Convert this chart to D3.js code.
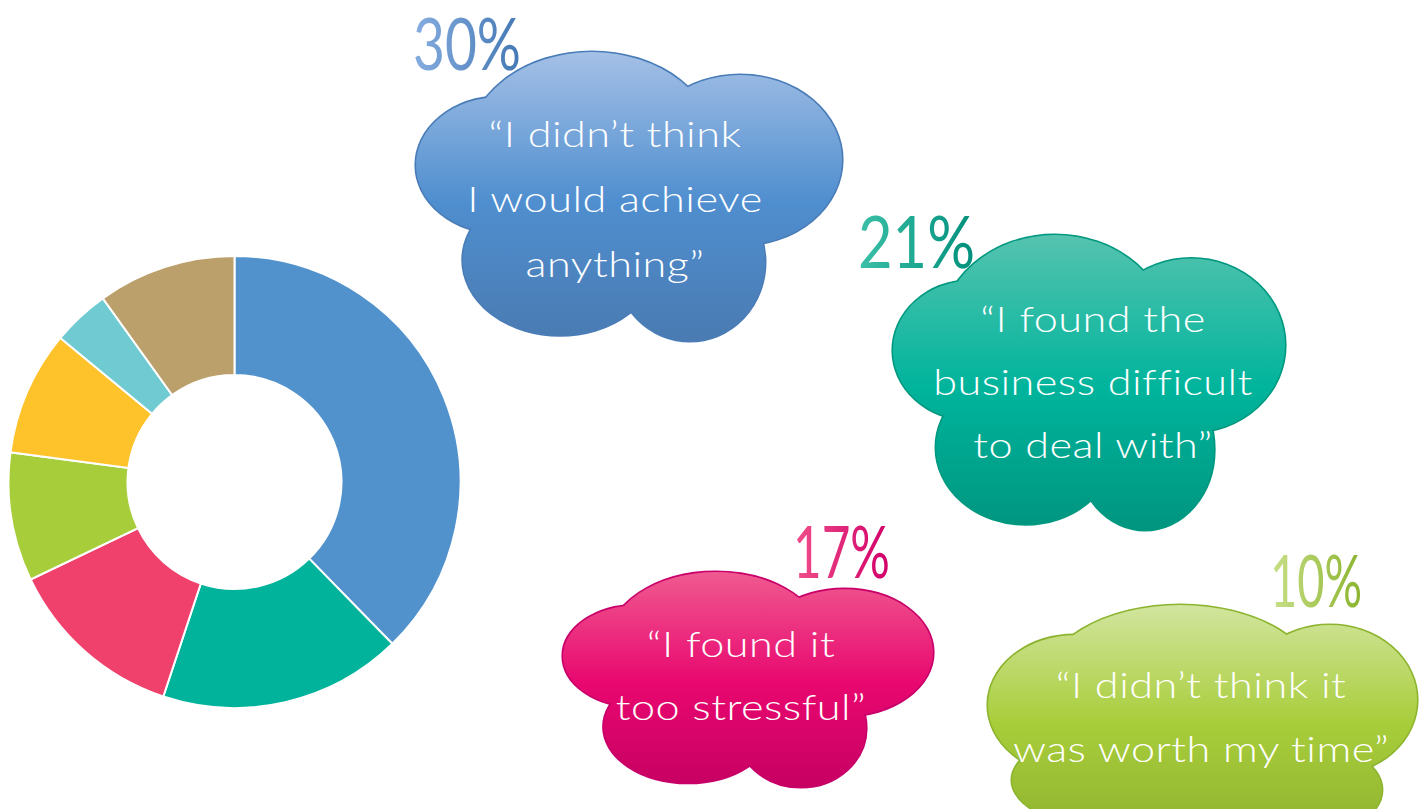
<!DOCTYPE html>
<html>
<head>
<meta charset="utf-8">
<script src="https://cdn.jsdelivr.net/npm/d3@7"></script>
<style>
  html, body { margin: 0; padding: 0; background: #ffffff; }
  svg { display: block; }
</style>
</head>
<body>
<svg id="chart" width="1424" height="809"></svg>
<script>
// Donut segments (share of respondents, %)
const reasons = [
  "Didn't think I would achieve anything",
  "Found the business difficult to deal with",
  "Too stressful",
  "Not worth my time",
  "Other reason A",
  "Other reason B",
  "Other reason C"
];
const shares = [37.7, 17.4, 12.8, 9.2, 8.9, 4.1, 9.9];
const sliceColors = ["#5192cd", "#02b39b", "#ef416c", "#a7ce3a", "#fec22a", "#70cad1", "#bca06b"];

// Highlighted quotes
const quoteLines = [
  ["\u201CI didn\u2019t think", "I would achieve", "anything\u201D"],
  ["\u201CI found the", "business difficult", "to deal with\u201D"],
  ["\u201CI found it", "too stressful\u201D"],
  ["\u201CI didn\u2019t think it", "was worth my time\u201D"]
];
const quotePercents = ["30%", "21%", "17%", "10%"];
const quoteGradients = [
  ["#a4c0e6", "#4f8ecf", "#4a7bb2"],
  ["#55c3af", "#00b49c", "#00957f"],
  ["#f05a90", "#e8076f", "#c70062"],
  ["#d2e59e", "#a8cd3a", "#8fb330"]
];
const quoteStrokes = ["#4a7db8", "#00987f", "#c8006a", "#8cb42e"];
const percentGradients = [
  ["#86ade0", "#4478b4"],
  ["#3cc0a8", "#008f7b"],
  ["#f0508a", "#d1006a"],
  ["#c9e08a", "#8cb42e"]
];

const svg = d3.select("#chart");
const defs = svg.append("defs");

// ---------- Donut ----------
const cx = 234.5, cy = 482, outerR = 226, innerR = 107;
const pie = d3.pie().sort(null).value(d => d);
const arc = d3.arc().innerRadius(innerR).outerRadius(outerR);
const color = d3.scaleOrdinal().domain(reasons).range(sliceColors);

svg.append("g")
  .attr("transform", `translate(${cx},${cy})`)
  .selectAll("path")
  .data(pie(shares))
  .join("path")
  .attr("d", arc)
  .attr("fill", (d, i) => color(reasons[i]))
  .attr("stroke", "#ffffff")
  .attr("stroke-width", 2);

// ---------- Clouds ----------
// Cloud outline = union of ellipses, in unit box coordinates [cx, cy, rx, ry]
const puffyCloud = [
  [0.413, 0.339, 0.293, 0.339],
  [0.761, 0.374, 0.239, 0.294],
  [0.197, 0.391, 0.197, 0.235],
  [0.338, 0.720, 0.228, 0.260],
  [0.643, 0.727, 0.176, 0.273],
  [0.479, 0.512, 0.352, 0.311]
];
const flatCloud = [
  [0.448, 0.370, 0.326, 0.370],
  [0.797, 0.413, 0.203, 0.326],
  [0.203, 0.435, 0.203, 0.304],
  [0.308, 0.761, 0.252, 0.217],
  [0.704, 0.804, 0.214, 0.217],
  [0.494, 0.543, 0.420, 0.348]
];

const cloudShapes = [puffyCloud, puffyCloud, puffyCloud, flatCloud];
const cloudBoxes = [
  { x: 416, y: 52, w: 426, h: 289 },
  { x: 893, y: 235, w: 392, h: 295 },
  { x: 563, y: 572, w: 370, h: 215 },
  { x: 988, y: 605, w: 429, h: 230 }
];
const textLayout = [
  { x: 615, y: 147, dy: 65, size: 36 },
  { x: 1093, y: 332, dy: 63, size: 36 },
  { x: 741, y: 657, dy: 63, size: 36 },
  { x: 1201, y: 698, dy: 64, size: 36 }
];
const percentLayout = [
  { x: 413, y: 70, w: 108, size: 72 },
  { x: 858, y: 268, w: 117, size: 72 },
  { x: 793, y: 578, w: 97, size: 72 },
  { x: 1270, y: 607, w: 92, size: 72 }
];
const textStretch = 1.2;

quoteLines.forEach((lines, i) => {
  const b = cloudBoxes[i];
  const lobes = cloudShapes[i];
  const gid = "cloudFill" + i;
  const g = defs.append("linearGradient")
    .attr("id", gid)
    .attr("gradientUnits", "userSpaceOnUse")
    .attr("x1", 0).attr("x2", 0)
    .attr("y1", b.y).attr("y2", b.y + b.h);
  g.append("stop").attr("offset", 0).attr("stop-color", quoteGradients[i][0]);
  g.append("stop").attr("offset", 0.52).attr("stop-color", quoteGradients[i][1]);
  g.append("stop").attr("offset", 1).attr("stop-color", quoteGradients[i][2]);

  const sx = d3.scaleLinear().domain([0, 1]).range([b.x, b.x + b.w]);
  const sy = d3.scaleLinear().domain([0, 1]).range([b.y, b.y + b.h]);

  const cloud = svg.append("g").attr("class", "cloud");
  // outline layer
  cloud.append("g").selectAll("ellipse").data(lobes).join("ellipse")
    .attr("cx", d => sx(d[0])).attr("cy", d => sy(d[1]))
    .attr("rx", d => d[2] * b.w).attr("ry", d => d[3] * b.h)
    .attr("fill", "none")
    .attr("stroke", quoteStrokes[i])
    .attr("stroke-width", 3.2);
  // fill layer covers the inner halves of the outlines
  cloud.append("g").selectAll("ellipse").data(lobes).join("ellipse")
    .attr("cx", d => sx(d[0])).attr("cy", d => sy(d[1]))
    .attr("rx", d => d[2] * b.w).attr("ry", d => d[3] * b.h)
    .attr("fill", `url(#${gid})`);

  const t = textLayout[i];
  cloud.append("g")
    .attr("transform", `translate(${t.x},0) scale(${textStretch},1)`)
    .selectAll("text").data(lines).join("text")
    .attr("x", 0)
    .attr("y", (d, k) => t.y + k * t.dy)
    .attr("text-anchor", "middle")
    .attr("fill", "#ffffff")
    .style("font-family", "Lato, 'Open Sans', sans-serif")
    .style("font-weight", 300)
    .style("font-size", t.size + "px")
    .style("letter-spacing", "0.4px")
    .text(d => d);

  // percentage label
  const pid = "pctFill" + i;
  const p = percentLayout[i];
  const pg = defs.append("linearGradient")
    .attr("id", pid)
    .attr("gradientUnits", "userSpaceOnUse")
    .attr("x1", p.x).attr("x2", p.x + p.w)
    .attr("y1", 0).attr("y2", 0);
  pg.append("stop").attr("offset", 0).attr("stop-color", percentGradients[i][0]);
  pg.append("stop").attr("offset", 1).attr("stop-color", percentGradients[i][1]);

  svg.append("text")
    .attr("x", p.x)
    .attr("y", p.y)
    .attr("textLength", p.w)
    .attr("lengthAdjust", "spacingAndGlyphs")
    .attr("fill", `url(#${pid})`)
    .style("font-family", "Lato, 'Open Sans', sans-serif")
    .style("font-weight", 400)
    .style("font-size", p.size + "px")
    .text(quotePercents[i]);
});
</script>
</body>
</html>
